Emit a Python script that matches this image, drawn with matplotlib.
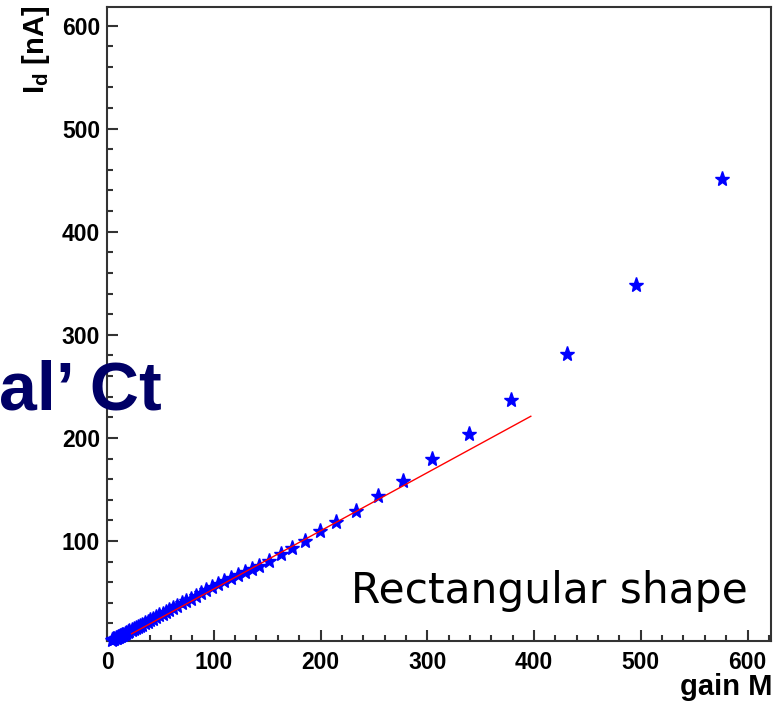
import matplotlib.pyplot as plt
from matplotlib.ticker import MultipleLocator

plt.rcParams['mathtext.fontset'] = 'custom'
plt.rcParams['mathtext.bf'] = 'Liberation Sans:bold'
plt.rcParams['mathtext.rm'] = 'Liberation Sans'

# measured points: gain M vs dark current I_d [nA]
gain = [5, 6, 7, 8, 9, 10, 11, 12, 13, 14, 15, 16.5, 18, 19.5, 21, 23, 25, 27,
        29, 31, 33, 35.5, 38, 40.5, 43, 46, 49, 52, 55, 58.5, 62, 66, 70, 74,
        78.5, 83, 88, 93, 98.5, 104, 110, 116, 122.8, 129, 135.9, 142.5, 151.8,
        163, 173.4, 185.6, 199.6, 214.6, 233.4, 254, 277.4, 304.6, 339, 378.6,
        431, 495.8, 576.4]
current = [4, 4.5, 5, 5.5, 6, 6.5, 7, 7.5, 8, 8.5, 9, 9.8, 10.6, 11.4, 12.3,
           13.4, 14.5, 15.6, 16.7, 17.8, 19, 20.3, 21.7, 23.1, 24.5, 26.2, 27.8,
           29.5, 31.1, 33, 35, 37.2, 39.4, 41.6, 44, 46.5, 49.2, 52, 55, 58,
           61.3, 64.5, 67, 70, 72.5, 75.5, 80.6, 87.4, 93.2, 100, 109.7, 118.4,
           129.1, 143.7, 158.3, 179.6, 203.9, 236.9, 281.6, 348.5, 451.5]

# linear fit line
fit_x = [23, 397]
fit_y = [10, 221]

fig = plt.figure(figsize=(7.77, 7.04), dpi=100)
ax = fig.add_axes([107 / 777, 63 / 704, 664 / 777, 634 / 704])

ax.plot(gain, current, '*', color='#0000ff', ms=11, mec='#0000ff',
        clip_on=False, zorder=3)
ax.plot(fit_x, fit_y, '-', color='#ff0000', lw=1, zorder=4)

ax.set_xlim(0, 622)
ax.set_ylim(3, 618)
ax.xaxis.set_major_locator(MultipleLocator(100))
ax.xaxis.set_minor_locator(MultipleLocator(20))
ax.yaxis.set_major_locator(MultipleLocator(100))
ax.yaxis.set_minor_locator(MultipleLocator(20))
ax.tick_params(which='both', direction='in', top=False, right=False,
               color='#333333', width=1.5)
ax.tick_params(which='major', length=8)
ax.tick_params(which='minor', length=4.5)
ax.tick_params(axis='x', pad=7)
ax.tick_params(axis='y', pad=5)
for lab in ax.get_xticklabels() + ax.get_yticklabels():
    lab.set_fontfamily('Liberation Sans')
    lab.set_fontweight('bold')
    lab.set_fontsize(16.5)
for sp in ax.spines.values():
    sp.set_color('#333333')
    sp.set_linewidth(1.5)

fig.text(772 / 777, 1 - 687 / 704, 'gain M', ha='right', va='center',
         fontsize=21, fontweight='bold', family='Liberation Sans')
fig.text(36 / 777, 1 - 6 / 704, r'$\mathbf{I_d}$ [nA]', rotation=90,
         ha='center', va='top', fontsize=21, fontweight='bold',
         family='Liberation Sans')

fig.text(748 / 777, 1 - 603 / 704, 'Rectangular shape', ha='right',
         va='baseline', fontsize=30.5, family='DejaVu Sans', color='black')
fig.text(162 / 777, 1 - 410 / 704, 'al\u2019 Ct', ha='right', va='baseline',
         fontsize=49, fontweight='bold', family='Liberation Sans',
         color='#000066', zorder=5)

fig.savefig('out.png', dpi=100)
